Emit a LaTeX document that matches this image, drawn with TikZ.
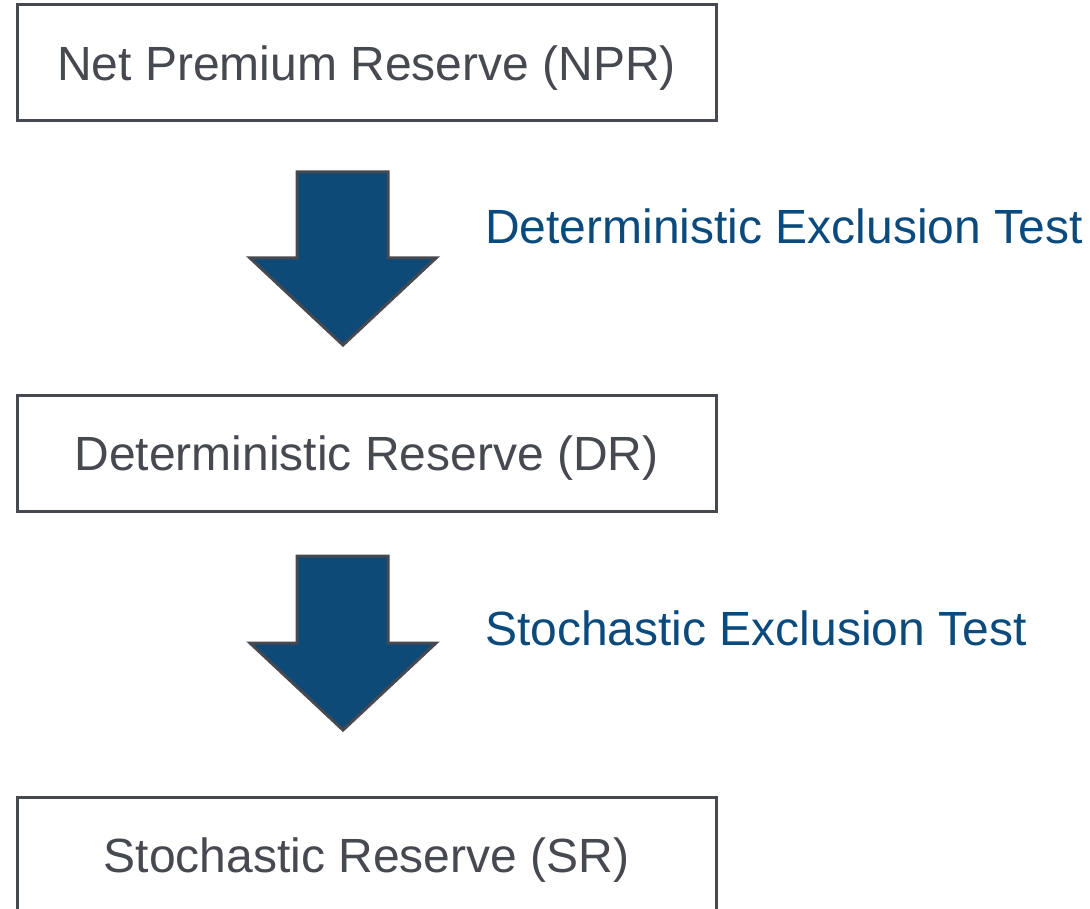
\documentclass[tikz,border=0pt]{standalone}
\usepackage{fontspec}
\setmainfont{Liberation Sans}
\definecolor{edgegrey}{HTML}{464950}
\definecolor{arrowblue}{HTML}{0D4A78}
\definecolor{labelblue}{HTML}{0B4A7D}
\tikzset{
  stagebox/.style={draw=edgegrey, line width=3pt, fill=white, minimum width=699pt, minimum height=116pt,
    text=edgegrey, inner sep=0pt, font=\fontsize{48}{52}\selectfont, text height=34.4pt, text depth=0pt},
  blockarrow/.style={fill=arrowblue, draw=edgegrey, line width=3pt, line join=miter},
  testlabel/.style={text=labelblue, anchor=base west, inner sep=0pt, font=\fontsize{48}{52}\selectfont}
}
\begin{document}
\begin{tikzpicture}[x=1pt,y=-1pt]
\useasboundingbox (0,0) rectangle (1090,909);
\clip (0,0) rectangle (1090,909);
\node[stagebox] (npr) at (366.5,63) {Net Premium Reserve (NPR)};
\node[stagebox] (dr) at (366.5,453) {Deterministic Reserve (DR)};
\node[stagebox] (sr) at (366.5,855) {Stochastic Reserve (SR)};
\draw[blockarrow] (297,172) -- (388,172) -- (388,258) -- (436,258) -- (343,345) -- (250,258) -- (297,258) -- cycle;
\draw[blockarrow] (297,556) -- (388,556) -- (388,643) -- (436,643) -- (343,730) -- (250,643) -- (297,643) -- cycle;
\node[testlabel] (det) at (485,244) {Deterministic Exclusion Test};
\node[testlabel] (sto) at (485,645) {Stochastic Exclusion Test};
\end{tikzpicture}
\end{document}
